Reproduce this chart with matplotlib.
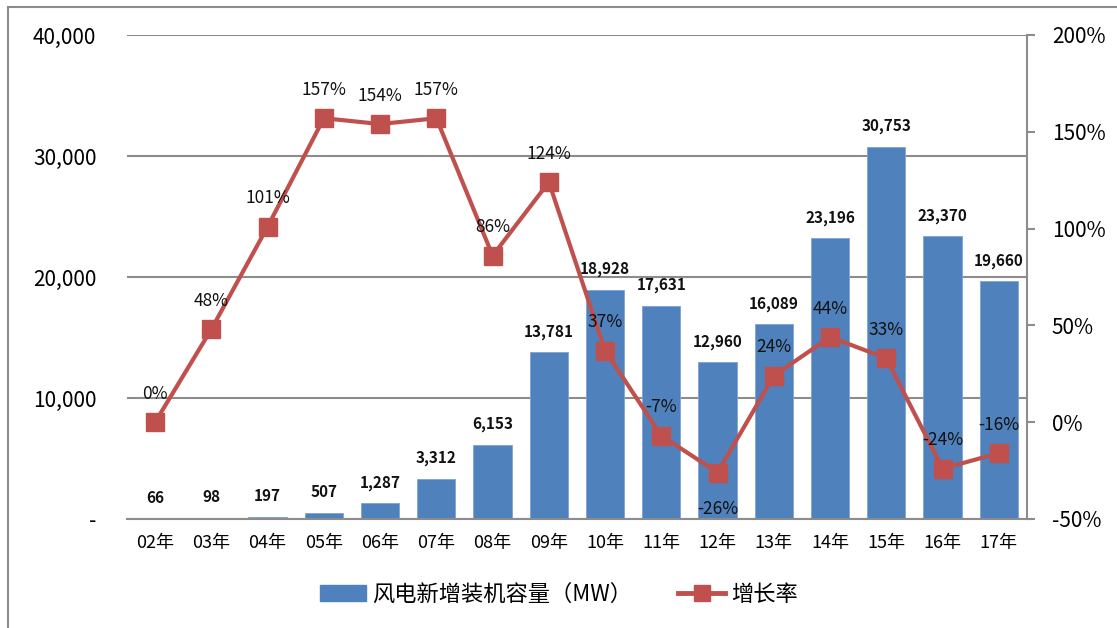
import numpy as np
import matplotlib
matplotlib.use('Agg')
import matplotlib.pyplot as plt
from matplotlib.ticker import FuncFormatter
from matplotlib.lines import Line2D

plt.rcParams['font.family'] = ['Noto Sans CJK SC', 'DejaVu Sans']

years = ['02年', '03年', '04年', '05年', '06年', '07年', '08年', '09年',
         '10年', '11年', '12年', '13年', '14年', '15年', '16年', '17年']
capacity = [66, 98, 197, 507, 1287, 3312, 6153, 13781,
            18928, 17631, 12960, 16089, 23196, 30753, 23370, 19660]
growth = [0, 48, 101, 157, 154, 157, 86, 124,
          37, -7, -26, 24, 44, 33, -24, -16]

blue = '#4F81BD'
red = '#C0504D'
grey = '#8C8C8C'

fig = plt.figure(figsize=(11.17, 6.28), dpi=100)
ax = fig.add_axes([0.1137, 0.1736, 0.8057, 0.7707])
x = np.arange(len(years))

bars = ax.bar(x, capacity, width=0.68, color=blue, edgecolor='#7FA3D0', linewidth=0.6, zorder=2)
ax.set_xlim(-0.5, len(years) - 0.5)
ax.set_ylim(0, 40000)
ax.set_yticks([0, 10000, 20000, 30000, 40000])
ax.yaxis.set_major_formatter(FuncFormatter(lambda v, p: '-' if v == 0 else f'{int(v):,}'))
ax.grid(axis='y', color=grey, linewidth=1.5, zorder=0)
ax.set_axisbelow(True)
for s in ['left', 'right', 'top']:
    ax.spines[s].set_visible(False)
ax.spines['bottom'].set_color(grey)
ax.spines['bottom'].set_linewidth(1.5)
ax.tick_params(axis='y', length=0, pad=22, labelsize=15)
ax.tick_params(axis='x', length=0, pad=11, labelsize=13)
ax.set_xticks(x)
ax.set_xticklabels(years)

for xi, v in zip(x, capacity):
    ax.annotate(f'{v:,}', (xi, v), xytext=(0, 9), textcoords='offset points',
                ha='center', va='bottom', fontsize=11, fontweight='bold', color='#111111')

ax2 = ax.twinx()
ax2.set_ylim(-50, 200)
ax2.set_yticks([-50, 0, 50, 100, 150, 200])
ax2.yaxis.set_major_formatter(FuncFormatter(lambda v, p: f'{int(v)}%'))
for s in ['left', 'top', 'bottom']:
    ax2.spines[s].set_visible(False)
ax2.spines['right'].set_color(grey)
ax2.spines['right'].set_linewidth(1.5)
ax2.tick_params(axis='y', direction='out', length=6, width=1.5, color=grey, pad=12, labelsize=15)
ax2.plot(x, growth, color=red, linewidth=3, marker='s', markersize=13, zorder=3)

lowest = int(np.argmin(growth))
for i, (xi, g) in enumerate(zip(x, growth)):
    dy = -26 if i == lowest else 14
    ax2.annotate(f'{g}%', (xi, g), xytext=(0, dy), textcoords='offset points',
                 ha='center', va='center' if i == lowest else 'bottom', fontsize=12.5, color='#111111')

handles = [plt.Rectangle((0, 0), 1, 1, color=blue),
           Line2D([0], [0], color=red, linewidth=3.5, marker='s', markersize=11)]
fig.legend(handles, ['风电新增装机容量（MW）', '增长率'], loc='center', bbox_to_anchor=(0.5, 0.054),
           ncol=2, frameon=False, fontsize=16, handlelength=2.1, columnspacing=2.1, handletextpad=0.25)

# outer frame (left and top edges visible in reference)
fig.add_artist(Line2D([0.0072, 0.0072], [0, 0.989], color=grey, linewidth=1.5, transform=fig.transFigure))
fig.add_artist(Line2D([0.0072, 1], [0.989, 0.989], color=grey, linewidth=1.5, transform=fig.transFigure))

fig.savefig('out.png', dpi=100)
